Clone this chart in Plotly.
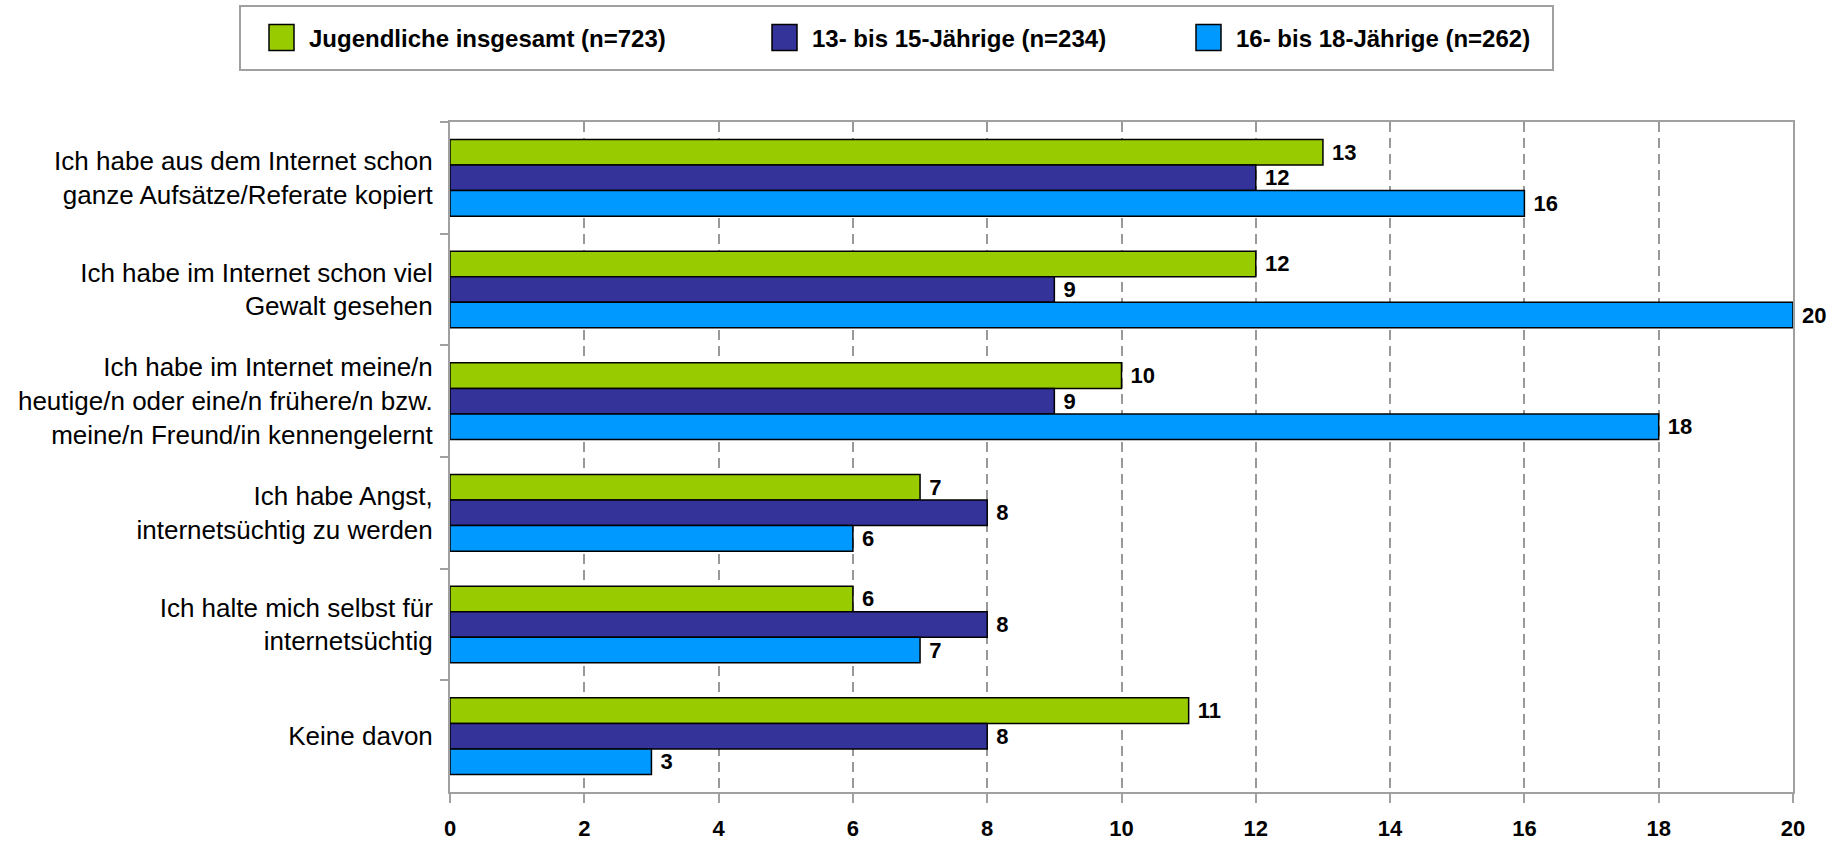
import plotly.graph_objects as go

categories = [
    "Ich habe aus dem Internet schon<br>ganze Aufsätze/Referate kopiert",
    "Ich habe im Internet schon viel<br>Gewalt gesehen",
    "Ich habe im Internet meine/n<br>heutige/n oder eine/n frühere/n bzw.<br>meine/n Freund/in kennengelernt",
    "Ich habe Angst,<br>internetsüchtig zu werden",
    "Ich halte mich selbst für<br>internetsüchtig",
    "Keine davon",
]
series_names = [
    "Jugendliche insgesamt (n=723)",
    "13- bis 15-Jährige (n=234)",
    "16- bis 18-Jährige (n=262)",
]
values_total = [13, 12, 10, 7, 6, 11]
values_13_15 = [12, 9, 9, 8, 8, 8]
values_16_18 = [16, 20, 18, 6, 7, 3]
x_ticks = [0, 2, 4, 6, 8, 10, 12, 14, 16, 18, 20]

colors = ["#99CC00", "#333399", "#0099FF"]
legend_widths = [443, 364, 365]

W, H = 1837, 842
L, R, T, B = 450, 44, 122, 50
PW, PH = W - L - R, H - T - B


def px_x(p):
    return (p - L) / PW


def px_y(p):
    return (H - B - p) / PH


FONT = "Liberation Sans, Arial, sans-serif"

fig = go.Figure()
for name, vals, col, lw in zip(series_names, [values_total, values_13_15, values_16_18], colors, legend_widths):
    fig.add_trace(go.Bar(
        y=categories, x=vals, name=name, orientation="h",
        marker=dict(color=col, line=dict(color="#000000", width=1.5)),
        text=vals, texttemplate="\u00a0%{x}", textposition="outside", cliponaxis=False,
        constraintext="none",
        textfont=dict(family=FONT, size=22, color="#000000", weight="bold"),
        legendwidth=lw,
    ))

fig.update_layout(
    width=W, height=H,
    margin=dict(l=L, r=R, t=T, b=B, autoexpand=False),
    paper_bgcolor="white", plot_bgcolor="white",
    barmode="group", bargap=0.313, bargroupgap=0,
    font=dict(family=FONT, color="#000000"),
    showlegend=True,
    legend=dict(
        orientation="h", x=px_x(254), xanchor="left",
        y=px_y(38), yanchor="middle", itemwidth=45,
        font=dict(family=FONT, size=24, color="#000000", weight="bold"),
        bgcolor="rgba(0,0,0,0)", borderwidth=0, traceorder="normal",
    ),
    shapes=[dict(
        type="rect", xref="paper", yref="paper",
        x0=px_x(240), x1=px_x(1553), y0=px_y(70), y1=px_y(6),
        line=dict(color="#A0A0A0", width=2), fillcolor="rgba(0,0,0,0)",
    )],
)

fig.update_xaxes(
    range=[0, 20], tickvals=x_ticks, ticktext=[str(v) for v in x_ticks],
    showgrid=True, gridcolor="#999999", gridwidth=2, griddash="10px,6px",
    showline=True, linecolor="#A0A0A0", linewidth=2, mirror=True,
    ticks="outside", ticklen=9, tickwidth=2, tickcolor="#A0A0A0",
    tickfont=dict(family=FONT, size=22, color="#000000", weight="bold"),
    ticklabelstandoff=7, zeroline=False, fixedrange=True,
)
fig.update_yaxes(
    autorange="reversed", showgrid=False,
    showline=True, linecolor="#A0A0A0", linewidth=2, mirror=True,
    ticks="outside", ticklen=8, tickwidth=2, tickcolor="#A0A0A0",
    tickson="boundaries",
    tickfont=dict(family=FONT, size=26, color="#000000"),
    ticklabelstandoff=10, fixedrange=True,
)

SWATCH = "M12.5,13H-12.5V-13H12.5Z"
post = (
    "document.body.style.margin='0';document.body.style.overflow='hidden';"
    "var st=document.createElement('style');"
    "st.textContent=\"g.legendpoints path{d:path('" + SWATCH + "');}\";"
    "document.head.appendChild(st);"
    "function big(){document.querySelectorAll('g.legendpoints path').forEach(function(p){"
    "p.setAttribute('d','" + SWATCH + "');});}"
    "big();setTimeout(big,50);setTimeout(big,300);"
    "var gd=document.getElementById('{plot_id}');"
    "if(gd&&gd.on){gd.on('plotly_afterplot',big);}"
)

fig.write_html("out.html", config={"displayModeBar": False}, post_script=post)
